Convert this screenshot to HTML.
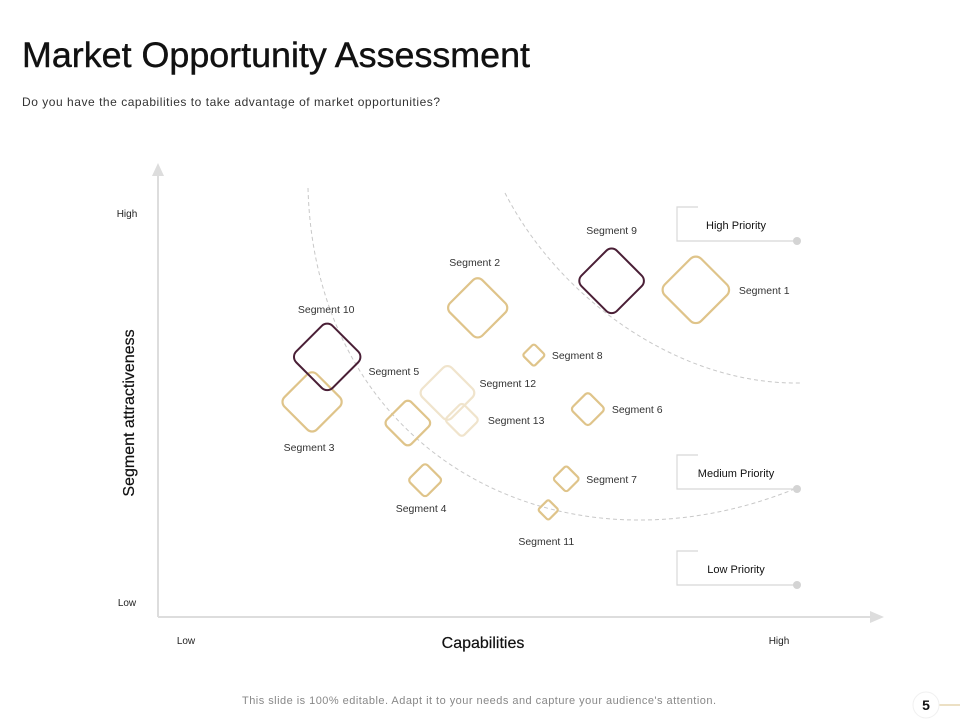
<!DOCTYPE html>
<html><head><meta charset="utf-8"><style>
body{margin:0;width:960px;height:720px;background:#fff;overflow:hidden;font-family:"Liberation Sans",sans-serif}
svg text{font-family:"Liberation Sans",sans-serif}
</style></head><body>
<svg id="chart" width="960" height="720" viewBox="0 0 960 720">
<text x="22" y="67" font-size="35" fill="#111" stroke="#111" stroke-width="0.4" textLength="508" lengthAdjust="spacingAndGlyphs">Market Opportunity Assessment</text>
<text x="22" y="106" font-size="12" fill="#333" textLength="418">Do you have the capabilities to take advantage  of market opportunities?</text>
<g fill="none" stroke="#c8c8c8" stroke-width="1" stroke-dasharray="4,3">
<path d="M308,188 C315,455 560,585 797,488"/>
<path d="M505,193 C560,300 680,385 800,383"/>
</g>
<g>
<line x1="158" y1="617" x2="158" y2="172" stroke="#ddd" stroke-width="2"/>
<polygon points="152,176 164,176 158,163" fill="#ddd"/>
<line x1="158" y1="617" x2="872" y2="617" stroke="#ddd" stroke-width="2"/>
<polygon points="870,611 870,623 884,617" fill="#ddd"/>
<text x="127" y="217" font-size="10" fill="#222" text-anchor="middle">High</text>
<text x="127" y="606" font-size="10" fill="#222" text-anchor="middle">Low</text>
<text x="186" y="644" font-size="10" fill="#222" text-anchor="middle">Low</text>
<text x="779" y="644" font-size="10" fill="#222" text-anchor="middle">High</text>
<text x="483" y="648" font-size="16" fill="#111" stroke="#111" stroke-width="0.2" text-anchor="middle">Capabilities</text>
<text x="0" y="0" font-size="16" fill="#111" stroke="#111" stroke-width="0.2" text-anchor="middle" transform="translate(134,413) rotate(-90)">Segment attractiveness</text>
</g>
<g id="legend"></g>
<g id="marks"></g>
<text x="242" y="704" font-size="11" fill="#888" textLength="474">This slide is 100% editable. Adapt it to your needs and capture your audience's attention.</text>
<line x1="938" y1="705" x2="960" y2="705" stroke="#d8c28a" stroke-width="1"/>
<circle cx="926" cy="705" r="13" fill="#fff" stroke="#f0f0f0"/>
<text x="926" y="710" font-size="14" font-weight="bold" fill="#111" text-anchor="middle">5</text>
</svg>
<script>
const segNames=["Segment 1","Segment 2","Segment 3","Segment 4","Segment 5","Segment 6","Segment 7","Segment 8","Segment 9","Segment 10","Segment 11","Segment 12","Segment 13"];
const capabilities=[74.7,44.4,21.4,37.1,34.7,59.7,56.7,52.2,63.0,23.5,54.2,40.2,42.2];
const attractiveness=[72.7,68.7,47.8,30.4,43.1,46.2,30.7,58.2,74.7,57.8,23.8,49.8,43.8];
const sizes=[35,31,31,16,23,16,12,10,34,35,9,28,16];
const kinds=["gold","gold","gold","gold","gold","gold","gold","gold","dark","dark","gold","faded","faded"];
const priorities=["High Priority","Medium Priority","Low Priority"];
// label layout (offset from mark center, anchor)
const labelLayout=[[43,4,"start"],[-3,-42,"middle"],[-3,49,"middle"],[-4,32,"middle"],[-14,-48,"middle"],[24,4,"start"],[20,4,"start"],[18,4,"start"],[0,-47,"middle"],[-1,-44,"middle"],[-2,35,"middle"],[32,-6,"start"],[26,4,"start"]];
const legendTops=[207,455,551];
const NS="http://www.w3.org/2000/svg";
function xs(v){return 158+v*7.2;}
function ys(v){return 617-v*4.5;}
const colors={gold:"#dfc48a",dark:"#4a1f36",faded:"#f0e4cc"};
const marks=document.getElementById('marks');
const order=[11,12,0,1,2,3,4,5,6,7,8,9,10];
order.forEach(i=>{
  const cx=xs(capabilities[i]),cy=ys(attractiveness[i]),h=sizes[i];
  const s=h*2/1.414+2;
  const r=document.createElementNS(NS,'rect');
  r.setAttribute('x',cx-s/2);r.setAttribute('y',cy-s/2);
  r.setAttribute('width',s);r.setAttribute('height',s);
  r.setAttribute('rx',Math.max(2,s*0.15));
  r.setAttribute('fill','none');
  r.setAttribute('stroke',colors[kinds[i]]);
  r.setAttribute('stroke-width',kinds[i]==="dark"?2:2.2);
  r.setAttribute('transform','rotate(45 '+cx+' '+cy+')');
  
  
  marks.appendChild(r);
});
segNames.forEach((n,i)=>{
  const cx=xs(capabilities[i]),cy=ys(attractiveness[i]);
  const t=document.createElementNS(NS,'text');
  t.setAttribute('x',cx+labelLayout[i][0]);t.setAttribute('y',cy+labelLayout[i][1]);
  t.setAttribute('text-anchor',labelLayout[i][2]);
  t.setAttribute('font-size','10.5');t.setAttribute('fill','#333');
  t.textContent=n;
  
  
  marks.appendChild(t);
});
const lg=document.getElementById('legend');
priorities.forEach((p,i)=>{
  const top=legendTops[i],bot=top+34;
  const path=document.createElementNS(NS,'path');
  path.setAttribute('d','M698,'+top+' H677 V'+bot+' H797');
  path.setAttribute('fill','none');path.setAttribute('stroke','#d8d8d8');path.setAttribute('stroke-width','1.2');
  
  
  lg.appendChild(path);
  const c=document.createElementNS(NS,'circle');
  c.setAttribute('cx',797);c.setAttribute('cy',bot);c.setAttribute('r',4);c.setAttribute('fill','#d4d4d4');
  
  
  lg.appendChild(c);
  const t=document.createElementNS(NS,'text');
  t.setAttribute('x',736);t.setAttribute('y',top+22);t.setAttribute('text-anchor','middle');
  t.setAttribute('font-size','11');t.setAttribute('fill','#111');
  t.textContent=p;
  
  
  lg.appendChild(t);
});
</script>
</body></html>
